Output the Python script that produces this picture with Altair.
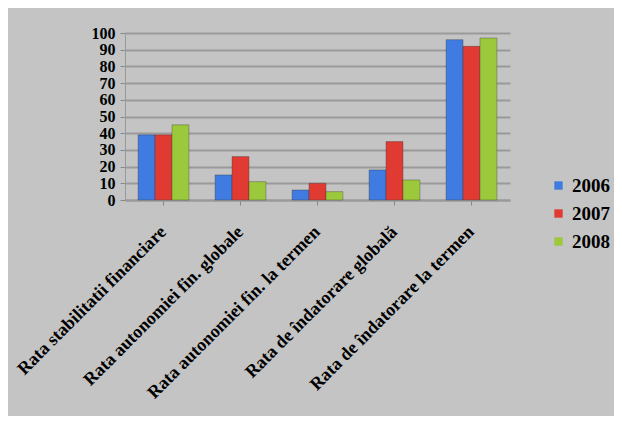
import altair as alt
import pandas as pd

categories = [
    "Rata stabilitatii financiare",
    "Rata autonomiei fin. globale",
    "Rata autonomiei fin. la termen",
    "Rata de îndatorare globală",
    "Rata de îndatorare la termen",
]
years = ["2006", "2007", "2008"]
v2006 = [39, 15, 6, 18, 96]
v2007 = [39, 26, 10, 35, 92]
v2008 = [45, 11, 5, 12, 97]
colors = ["#3f7be0", "#e03a33", "#9cc83c"]

rows = []
for i, c in enumerate(categories):
    for y, vals in zip(years, [v2006, v2007, v2008]):
        rows.append({"cat": c, "year": y, "value": vals[i]})
df = pd.DataFrame(rows)

font = "Liberation Serif"

chart = alt.Chart(df).mark_bar(strokeWidth=1, strokeOpacity=0.35, stroke="#333").encode(
    x=alt.X("cat:N", sort=categories, title=None,
            scale=alt.Scale(paddingInner=0.34, paddingOuter=0.17),
            axis=alt.Axis(labelAngle=-45, labelAlign="right", labelBaseline="middle",
                          labelPadding=24, labelFont=font, labelFontSize=18,
                          labelFontWeight="bold", labelColor="#000", labelLimit=400,
                          tickColor="#888", tickSize=5, domainColor="#999",
                          domainWidth=2)),
    xOffset=alt.XOffset("year:N", sort=years),
    y=alt.Y("value:Q", title=None,
            scale=alt.Scale(domain=[0, 100], nice=False),
            axis=alt.Axis(values=list(range(0, 101, 10)), labelFont=font,
                          labelFontSize=16, labelFontWeight="bold", labelColor="#000",
                          labelOverlap=False, labelBound=False,
                          tickColor="#888", tickSize=5, labelPadding=5,
                          domainColor="#999", gridColor="#9a9a9a", gridWidth=2)),
    color=alt.Color("year:N", sort=years,
                    scale=alt.Scale(domain=years, range=colors),
                    legend=alt.Legend(title=None, orient="none", legendX=424, legendY=143,
                                      symbolType="square", symbolSize=70,
                                      symbolStrokeWidth=0, labelFont=font,
                                      labelFontSize=19, labelFontWeight="bold",
                                      labelColor="#000", rowPadding=8, labelOffset=4)),
).properties(
    width=385, height=167,
    autosize=alt.AutoSizeParams(type="none"),
    padding={"left": 117, "top": 25, "right": 104, "bottom": 216},
    background="#c4c4c4",
).configure_view(stroke=None)

chart.save("out.html", embed_options={"renderer": "svg", "actions": False})
